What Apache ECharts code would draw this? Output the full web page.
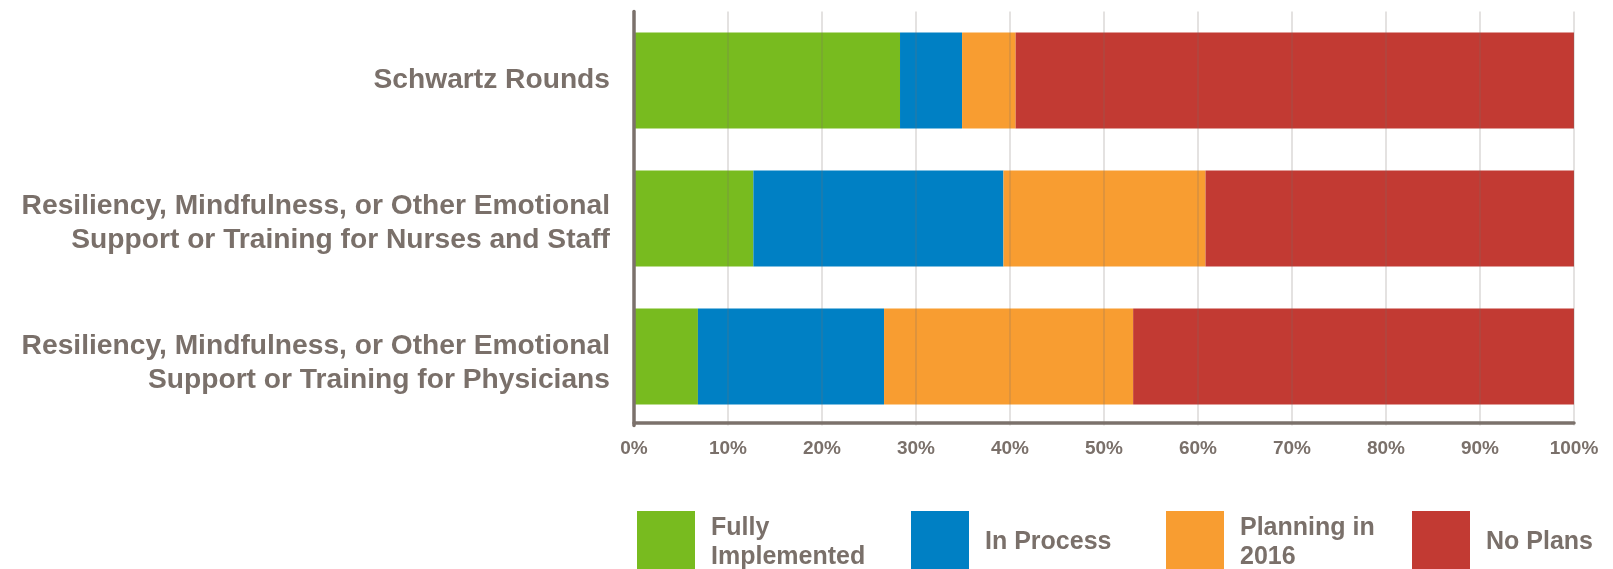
<!DOCTYPE html>
<html>
<head>
<meta charset="utf-8">
<title>Emotional support programs</title>
<script src="https://cdn.jsdelivr.net/npm/echarts@6/dist/echarts.min.js"></script>
<style>
  html, body { margin: 0; padding: 0; background: #ffffff; }
  #chart { width: 1613px; height: 569px; }
</style>
</head>
<body>
<div id="chart"></div>
<script>
// Programs, listed top to bottom
const categories = [
  'Schwartz Rounds',
  'Resiliency, Mindfulness, or Other Emotional\nSupport or Training for Nurses and Staff',
  'Resiliency, Mindfulness, or Other Emotional\nSupport or Training for Physicians'
];

// Share of respondents (%) in each status
const fullyImplemented = [28.3, 12.7, 6.8];
const inProcess        = [6.6, 26.6, 19.8];
const planningIn2016   = [5.7, 21.5, 26.5];
const noPlans          = [59.4, 39.2, 46.9];

const seriesNames  = ['Fully Implemented', 'In Process', 'Planning in 2016', 'No Plans'];
const legendLabels = ['Fully\nImplemented', 'In Process', 'Planning in\n2016', 'No Plans'];
const seriesColors = ['#78bb1f', '#0080c4', '#f89d31', '#c23a33'];

const textColor = '#7a706a';
const fontFamily = '"Liberation Sans", Arial, Helvetica, sans-serif';

const seriesValues = [fullyImplemented, inProcess, planningIn2016, noPlans];

// Two-line category names sit a little lower than their bars:
// an invisible spacer line of this height is put above them
const categorySpacer = [0, 9, 13];

// Legend entries sit at fixed spots along the bottom edge
const legendLeft = [637, 911, 1166, 1412];

const legends = seriesNames.map((name, i) => {
  const twoLines = legendLabels[i].indexOf('\n') >= 0;
  return {
    data: [name],
    left: legendLeft[i],
    top: 511,
    padding: 0,
    orient: 'horizontal',
    icon: 'rect',
    itemWidth: 58,
    itemHeight: 63,
    selectedMode: false,
    formatter: () => legendLabels[i],
    textStyle: {
      color: textColor,
      fontFamily: fontFamily,
      fontWeight: 'bold',
      fontSize: 25,
      lineHeight: 29,
      padding: twoLines ? [3, 0, 0, 11] : [0, 0, 6, 11]
    }
  };
});

const labelRich = {
  t: {
    color: textColor,
    fontFamily: fontFamily,
    fontWeight: 'bold',
    fontSize: 28.2,
    lineHeight: 34,
    align: 'right'
  }
};
categorySpacer.forEach((h) => {
  if (h > 0) labelRich['s' + h] = { fontSize: 1, lineHeight: h };
});

const chart = echarts.init(document.getElementById('chart'), null, { renderer: 'canvas' });

chart.setOption({
  backgroundColor: '#ffffff',
  animation: false,
  textStyle: { fontFamily: fontFamily },
  grid: { left: 634, right: 39, top: 11.5, height: 414, containLabel: false },
  legend: legends,
  xAxis: {
    type: 'value',
    min: 0,
    max: 100,
    interval: 10,
    position: 'bottom',
    offset: -3,
    z: 4,
    axisLine: { show: true, lineStyle: { color: '#7b716b', width: 3.5 } },
    axisTick: { show: false },
    splitLine: { show: true, lineStyle: { color: 'rgba(122,112,106,0.2)', width: 2 } },
    axisLabel: {
      formatter: '{value}%',
      color: textColor,
      fontFamily: fontFamily,
      fontWeight: 'bold',
      fontSize: 19,
      margin: 17
    }
  },
  yAxis: {
    type: 'category',
    data: categories,
    inverse: true,
    z: 5,
    axisLine: { show: true, lineStyle: { color: '#7b716b', width: 3.5 } },
    axisTick: { show: false },
    splitLine: { show: false },
    axisLabel: {
      color: textColor,
      fontFamily: fontFamily,
      fontWeight: 'bold',
      fontSize: 28.2,
      lineHeight: 34,
      margin: 24,
      align: 'right',
      formatter: (value, index) => {
        const lines = value.split('\n').map((s) => '{t|' + s + '}');
        const h = categorySpacer[index];
        if (h > 0) lines.unshift('{s' + h + '| }');
        return lines.join('\n');
      },
      rich: labelRich
    }
  },
  series: seriesNames.map((name, i) => ({
    name: name,
    type: 'bar',
    stack: 'status',
    barWidth: 96,
    itemStyle: { color: seriesColors[i] },
    emphasis: { disabled: true },
    data: seriesValues[i]
  }))
});
</script>
</body>
</html>
